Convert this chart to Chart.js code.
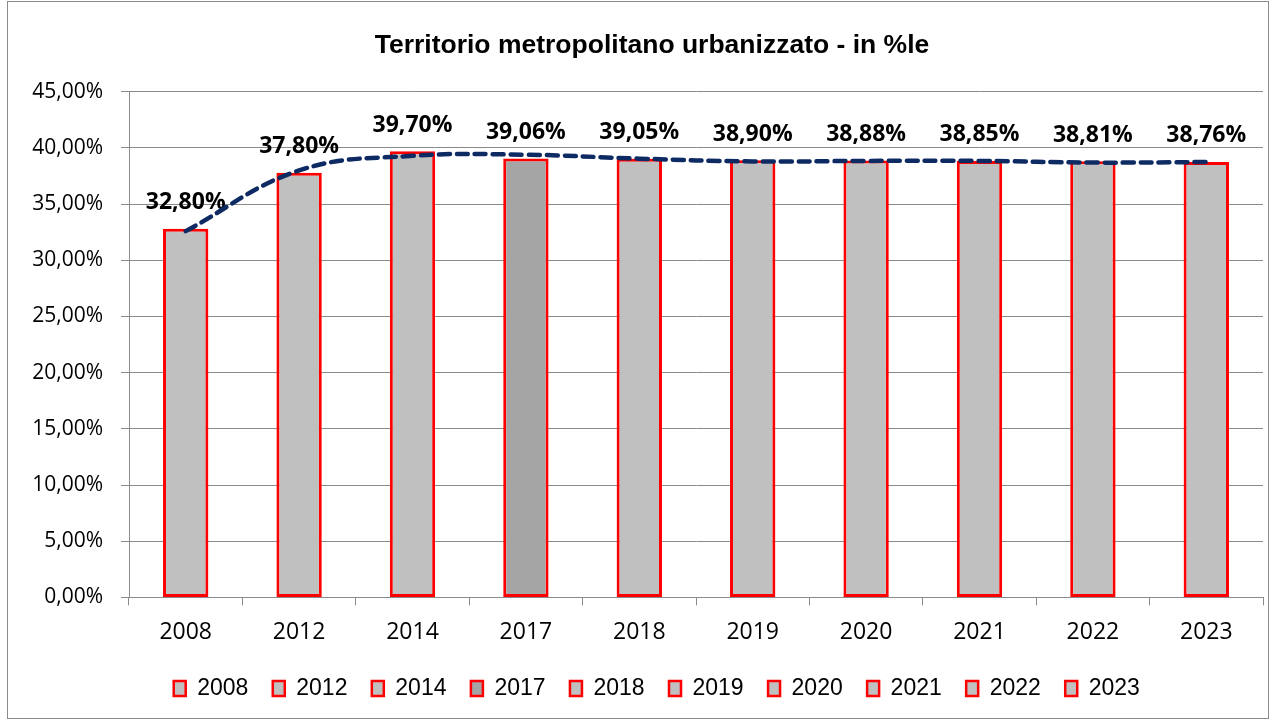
<!DOCTYPE html>
<html>
<head>
<meta charset="utf-8">
<script src="https://cdn.jsdelivr.net/npm/chart.js@4/dist/chart.umd.min.js"></script>
<style>
  html, body { margin: 0; padding: 0; background: #fff; }
  #wrap { position: relative; width: 1284px; height: 722px; }
  #frame { position: absolute; left: 7px; top: 1px; width: 1262px; height: 718px; border: 1px solid #8a8a8a; box-sizing: border-box; pointer-events: none; }
</style>
</head>
<body>
<div id="wrap">
  <canvas id="myChart" width="1284" height="722"></canvas>
  <div id="frame"></div>
</div>
<script>
/* chart data */
const years = ["2008", "2012", "2014", "2017", "2018", "2019", "2020", "2021", "2022", "2023"];
const urbanPct = [32.80, 37.80, 39.70, 39.06, 39.05, 38.90, 38.88, 38.85, 38.81, 38.76];
// dashed trend line
const trendPct = [32.6, 38.0, 39.3, 39.4, 39.05, 38.8, 38.85, 38.85, 38.7, 38.75];
const yTicks = [0, 5, 10, 15, 20, 25, 30, 35, 40, 45];

const barFill = years.map((y) => (y === "2017" ? "#a5a5a5" : "#c0c0c0"));
const pctText = (v) => `${v.toFixed(2).replace(".", ",")}%`;

const valueLabels = {
  id: "valueLabels",
  afterLayout(chart) {
    // title and legend sit a bit right of center in the original
    chart.titleBlock.left += 17;
    chart.titleBlock.right += 17;
    chart.legend.left += 25;
    chart.legend.right += 25;
  },
  beforeDatasetsDraw(chart) {
    const { ctx } = chart;
    const meta = chart.getDatasetMeta(1);
    ctx.save();
    ctx.font = "bold 23px 'Open Sans', sans-serif";
    ctx.fillStyle = "#000";
    ctx.textAlign = "center";
    ctx.textBaseline = "middle";
    meta.data.forEach((bar, i) => {
      ctx.fillText(pctText(urbanPct[i]), bar.x, bar.y - 26);
    });
    ctx.restore();
  },
};

const ctx = document.getElementById("myChart").getContext("2d");
const chart = new Chart(ctx, {
  type: "bar",
  data: {
    labels: years,
    datasets: [{
      type: "line",
      label: "trend",
      data: trendPct,
      borderColor: "#0d2a63",
      borderWidth: 4.5,
      borderDash: [11, 7],
      borderCapStyle: "round",
      pointRadius: 0,
      tension: 0.4,
      fill: false,
      order: 0,
    }, {
      label: "Territorio",
      data: urbanPct,
      backgroundColor: barFill,
      borderColor: "#ff0000",
      borderWidth: 3,
      borderSkipped: false,
      barPercentage: 0.4,
      categoryPercentage: 1,
      order: 1,
    }],
  },
  options: {
    responsive: false,
    animation: false,
    layout: { padding: { left: 7, right: 21, bottom: 12 } },
    scales: {
      x: {
        grid: {
          offset: true,
          drawOnChartArea: false,
          color: "#8a8a8a",
          tickLength: 8,
        },
        border: { color: "#8a8a8a" },
        ticks: {
          color: "#000",
          font: { family: "'Open Sans', sans-serif", size: 23 },
          padding: 13,
        },
      },
      y: {
        min: 0,
        max: 45,
        afterBuildTicks: (scale) => { scale.ticks = yTicks.map((v) => ({ value: v })); },
        afterFit: (scale) => { scale.width = 122; },
        grid: { color: "#8a8a8a", tickLength: 8 },
        border: { color: "#8a8a8a" },
        ticks: {
          color: "#000",
          font: { family: "'Open Sans', sans-serif", size: 21 },
          padding: 18,
          callback: (v) => pctText(v),
        },
      },
    },
    plugins: {
      title: {
        display: true,
        text: "Territorio metropolitano urbanizzato - in %le",
        color: "#000",
        font: { family: "'Liberation Sans', sans-serif", size: 26.5, weight: "bold" },
        padding: { top: 30, bottom: 30 },
      },
      legend: {
        position: "bottom",
        onClick: null,
        labels: {
          color: "#000",
          font: { family: "'Liberation Sans', sans-serif", size: 23 },
          boxWidth: 12,
          boxHeight: 15,
          padding: 18,
          generateLabels: () => years.map((y, i) => ({
            text: `${y} `,
            fillStyle: barFill[i],
            strokeStyle: "#ff0000",
            lineWidth: 2.5,
            hidden: false,
            datasetIndex: 1,
          })),
        },
      },
      tooltip: { enabled: false },
    },
  },
  plugins: [valueLabels],
});
</script>
</body>
</html>
